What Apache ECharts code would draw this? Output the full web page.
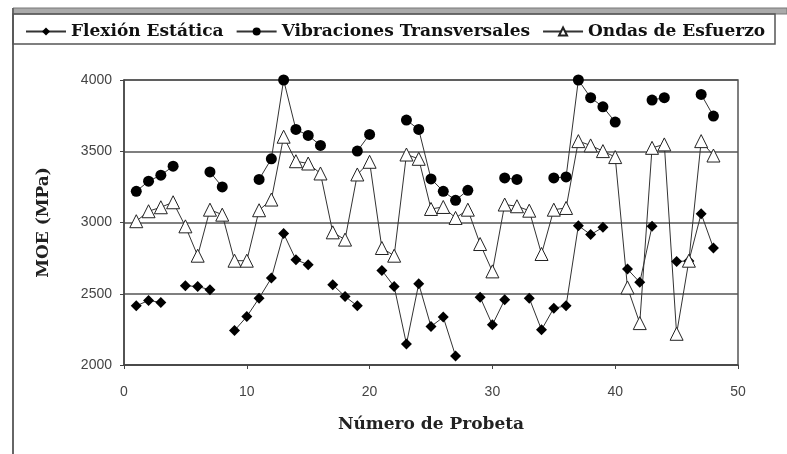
<!DOCTYPE html>
<html>
<head>
<meta charset="utf-8">
<script src="https://cdn.jsdelivr.net/npm/echarts@6/dist/echarts.min.js"></script>
<style>
html,body{margin:0;padding:0;background:#fff;}
#chart{width:787px;height:454px;}
</style>
</head>
<body>
<div id="chart"></div>
<script>
// numero de probeta 1..48
var probeta = [1,2,3,4,5,6,7,8,9,10,11,12,13,14,15,16,17,18,19,20,21,22,23,24,
               25,26,27,28,29,30,31,32,33,34,35,36,37,38,39,40,41,42,43,44,45,46,47,48];

var flexion = [2415,2453,2439,null,2556,2551,2528,null,2242,2340,2469,2610,2922,2739,2704,null,
               2563,2481,2415,null,2664,2551,2148,2570,2270,2336,2064,null,2476,2282,2458,null,
               2469,2247,2399,2415,2978,2915,2966,null,2673,2580,2973,null,2727,2730,3062,2821];

var vibraciones = [3219,3290,3332,3395,null,null,3355,3250,null,null,3302,3447,4000,3653,3611,3541,
                   null,null,3501,3618,null,null,3719,3653,3306,3219,3156,3226,null,null,3313,3302,
                   null,null,3313,3320,4000,3876,3812,3705,null,null,3859,3876,null,null,3899,3747];

var ondas = [3009,3079,3107,3142,2973,2767,3090,3055,2732,2732,3086,3161,3602,3430,3414,3344,
             2931,2880,3337,3426,2821,2767,3477,3447,3095,3109,3032,3090,2849,2657,3126,3114,
             3083,2779,3090,3102,3571,3541,3501,3459,2544,2294,3524,3548,2219,2732,3571,3470];

var yTicks = [2000,2500,3000,3500,4000];

function pares(vals){
    var out=[];
    probeta.forEach(function(n,i){
        out.push(vals[i]==null ? [n,null] : [n,vals[i]]);
    });
    return out;
}

var chart = echarts.init(document.getElementById('chart'));
var serif = 'DejaVu Serif';

var option = {
    animation:false,
    backgroundColor:'#fff',
    legend:{
        left:20, top:18,
        itemWidth:40, itemHeight:10, itemGap:12,
        textStyle:{fontFamily:serif, fontWeight:'bold', fontSize:17, color:'#111'},
        data:['Flexión Estática','Vibraciones Transversales','Ondas de Esfuerzo']
    },
    grid:{left:124, right:49, top:80, bottom:89, show:true, borderColor:'#555', borderWidth:1.5},
    xAxis:{
        type:'value', min:0, max:50, interval:10,
        name:'Número de Probeta', nameLocation:'middle', nameGap:51,
        nameTextStyle:{fontFamily:serif, fontWeight:'bold', fontSize:17, color:'#222'},
        axisLine:{lineStyle:{color:'#444', width:1.5}},
        axisTick:{length:4, lineStyle:{color:'#444'}},
        axisLabel:{fontFamily:'Liberation Sans', fontSize:14, color:'#444', margin:20},
        splitLine:{show:false}
    },
    yAxis:{
        type:'value', min:yTicks[0], max:yTicks[yTicks.length-1], interval:500,
        name:'MOE (MPa)', nameLocation:'middle', nameGap:72, nameRotate:90,
        nameTextStyle:{fontFamily:serif, fontWeight:'bold', fontSize:17, color:'#222'},
        axisLine:{show:true, lineStyle:{color:'#444', width:1.5}},
        axisTick:{show:true, length:4, lineStyle:{color:'#444'}},
        axisLabel:{fontFamily:'Liberation Sans', fontSize:14, color:'#444', margin:12,
                   formatter:function(v){ return String(v); }},
        splitLine:{lineStyle:{color:'#555', width:1.5}}
    },
    series:[
        {
            name:'Flexión Estática', type:'line', data:pares(flexion),
            symbol:'diamond', symbolSize:11,
            itemStyle:{color:'#000'},
            lineStyle:{color:'#333', width:1}
        },
        {
            name:'Vibraciones Transversales', type:'line', data:pares(vibraciones),
            symbol:'circle', symbolSize:11,
            itemStyle:{color:'#000'},
            lineStyle:{color:'#333', width:1}
        },
        {
            name:'Ondas de Esfuerzo', type:'line', data:pares(ondas),
            symbol:'triangle', symbolSize:13,
            itemStyle:{color:'#fff', borderColor:'#222', borderWidth:1},
            lineStyle:{color:'#333', width:1}
        }
    ],
    graphic:[
        {type:'rect', shape:{x:13, y:8, width:774, height:6}, style:{fill:'#aaa', stroke:'#777', lineWidth:1}, silent:true},
        {type:'line', shape:{x1:13, y1:8, x2:13, y2:454}, style:{stroke:'#666', lineWidth:2}, silent:true},
        {type:'rect', shape:{x:13, y:14, width:762, height:30}, style:{fill:'none', stroke:'#555', lineWidth:1.5}, silent:true}
    ]
};
chart.setOption(option);
</script>
</body>
</html>
